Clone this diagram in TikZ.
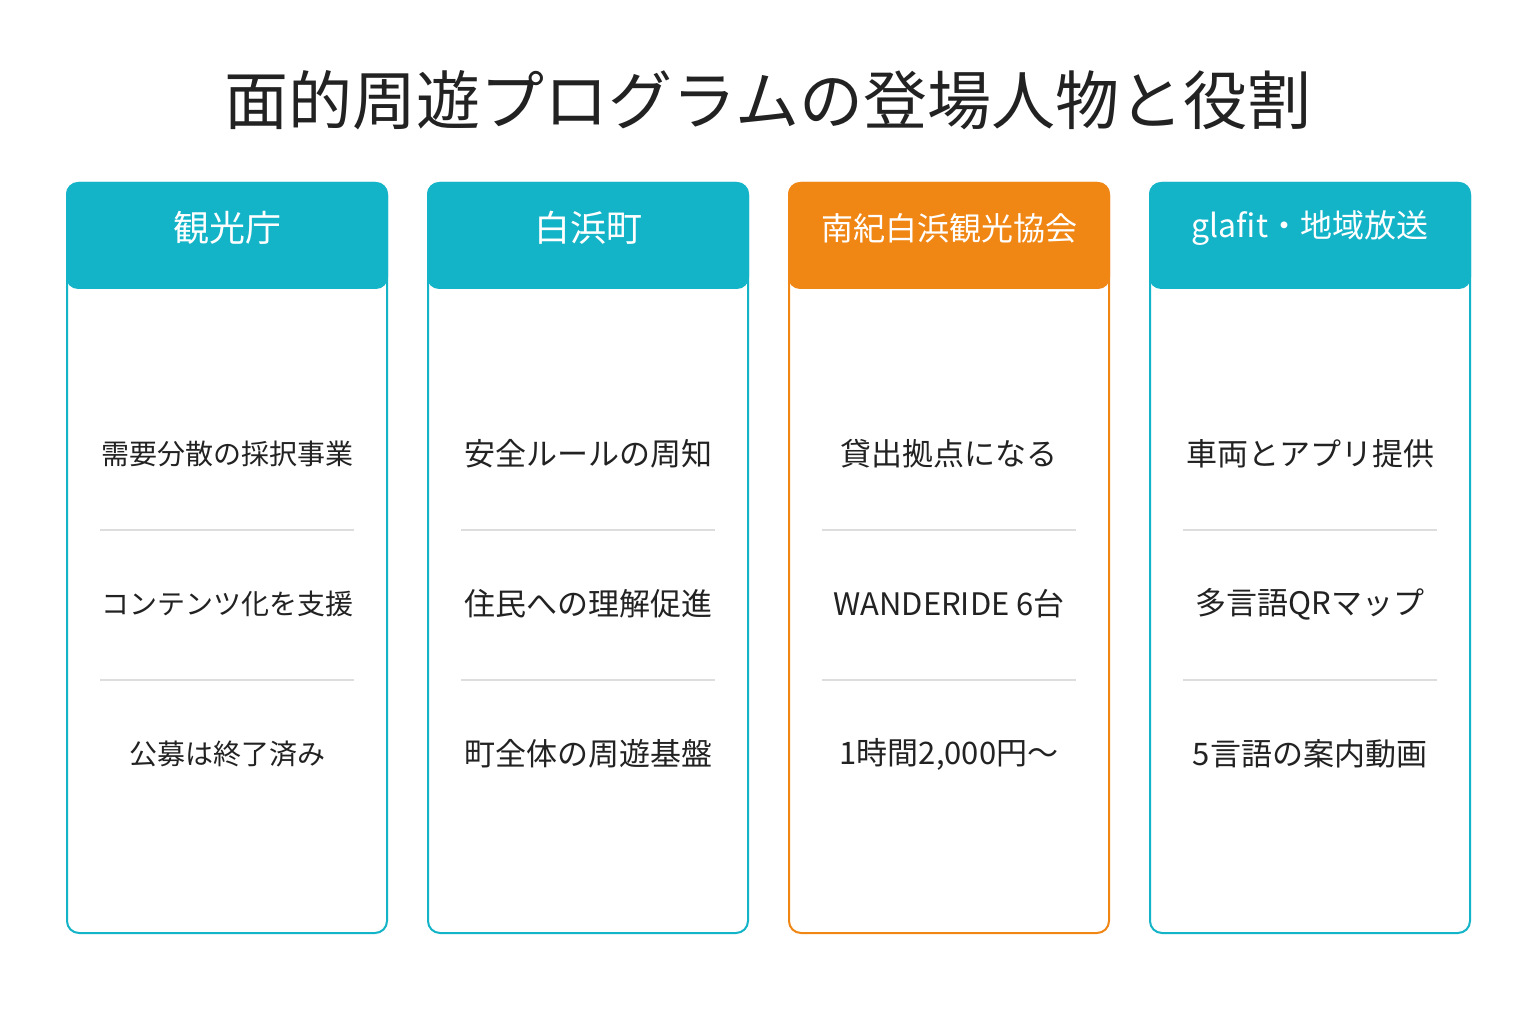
\documentclass[tikz,border=0pt]{standalone}
\usepackage{fontspec}
\setmainfont{Noto Sans CJK JP}
\definecolor{teal}{HTML}{14B4C8}
\definecolor{org}{HTML}{F08614}
\definecolor{sep}{HTML}{DDDDDD}
\definecolor{txt}{HTML}{222222}
\begin{document}
\begin{tikzpicture}[x=1pt,y=-1pt,
 card/.style={draw=#1,line width=2pt,rounded corners=12pt,fill=white},
 head/.style={fill=#1,rounded corners=12pt},
 htext/.style={text=white,font=\fontsize{36}{40}\selectfont},
 body/.style={text=txt,font=\fontsize{31}{36}\selectfont}]
\useasboundingbox (0,0) rectangle (1536,1024);
\fill[white] (0,0) rectangle (1536,1024);
\node[text=txt,font=\fontsize{64}{72}\selectfont] (title) at (768,100) {面的周遊プログラムの登場人物と役割};
\foreach \i/\x/\c/\h/\a/\b/\d/\hs/\bs in {
 1/67/teal/観光庁/需要分散の採択事業/コンテンツ化を支援/公募は終了済み/36/28,
 2/428/teal/白浜町/安全ルールの周知/住民への理解促進/町全体の周遊基盤/36/31,
 3/789/org/南紀白浜観光協会/貸出拠点になる/WANDERIDE 6台/{1時間2,000円〜}/32/31,
 4/1150/teal/glafit・地域放送/車両とアプリ提供/多言語QRマップ/5言語の案内動画/32/31}{
 \draw[card=\c] (\x,183) rectangle (\x+320,933);
 \fill[head=\c] (\x-1,182) rectangle (\x+321,289);
 \node[htext,font=\fontsize{\hs}{40}\selectfont] (h\i) at (\x+160,228) {\h};
 \node[body,font=\fontsize{\bs}{36}\selectfont] (a\i) at (\x+160,454) {\a};
 \node[body,font=\fontsize{\bs}{36}\selectfont] (b\i) at (\x+160,604) {\b};
 \node[body,font=\fontsize{\bs}{36}\selectfont] (d\i) at (\x+160,754) {\d};
 \draw[sep,line width=1.5pt] (\x+33,530) -- (\x+287,530);
 \draw[sep,line width=1.5pt] (\x+33,680) -- (\x+287,680);
}
\end{tikzpicture}
\end{document}
